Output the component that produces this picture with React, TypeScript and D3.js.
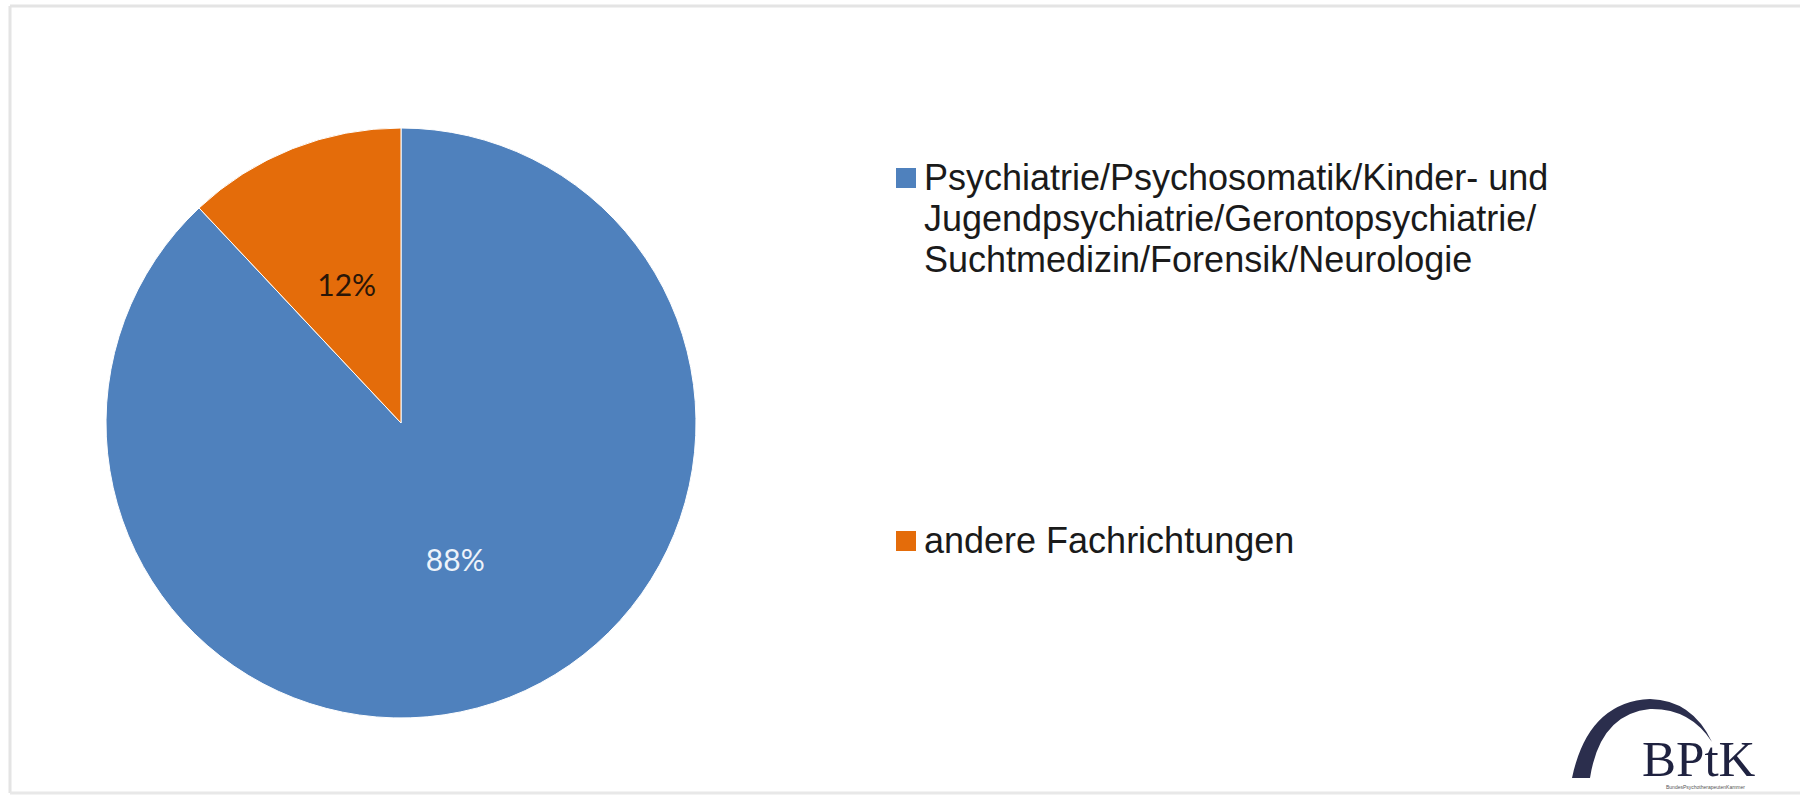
import React from "react";
import * as d3 from "d3";

const categories = [
  ["Psychiatrie/Psychosomatik/Kinder- und", "Jugendpsychiatrie/Gerontopsychiatrie/", "Suchtmedizin/Forensik/Neurologie"],
  ["andere Fachrichtungen"],
];
const values = [88, 12];
const valueLabels = ["88%", "12%"];
const colors = ["#4F81BD", "#E46C0A"];
const labelColors = ["#EEF3FA", "#2a1608"];

export default function App() {
  const W = 1800, H = 796;
  const cx = 401, cy = 423, r = 295;
  const pie = d3.pie<number>().sort(null).value((d) => d)(values);
  const arc = d3.arc<d3.PieArcDatum<number>>().innerRadius(0).outerRadius(r);
  const legendY = [190, 553];
  const lineH = 41;
  return (
    <svg width={W} height={H} style={{ position: "absolute", left: 0, top: 0, background: "#fff" }}>
      <rect x={0} y={0} width={W} height={H} fill="#fff" />
      {/* frame */}
      <line x1={10} y1={6} x2={W} y2={6} stroke="#e4e4e4" strokeWidth={3} />
      <line x1={10} y1={6} x2={10} y2={793} stroke="#e4e4e4" strokeWidth={3} />
      <line x1={10} y1={793} x2={W} y2={793} stroke="#e8e8e8" strokeWidth={3} />
      <g transform={`translate(${cx},${cy})`}>
        {pie.map((p, i) => (
          <path key={i} d={arc(p) || ""} fill={colors[i]} stroke="#fff" strokeWidth={1} />
        ))}
        {pie.map((p, i) => {
          const [x, y] = arc.centroid(p);
          return (
            <text key={"l" + i} x={x} y={y} dy="0.35em" textAnchor="middle" fontFamily="Lato, 'Open Sans', sans-serif" fontSize={30} fill={labelColors[i]}>
              {valueLabels[i]}
            </text>
          );
        })}
      </g>
      {categories.map((lines, i) => (
        <g key={"lg" + i}>
          <rect x={896} y={legendY[i] - 22} width={20} height={20} fill={colors[i]} />
          <text fontFamily="'Liberation Sans', Arial, sans-serif" fontSize={36} fill="#1a1a1a">
            {lines.map((t, j) => (
              <tspan key={j} x={924} y={legendY[i] + j * lineH}>{t}</tspan>
            ))}
          </text>
        </g>
      ))}
      {/* logo */}
      <path d="M1572,778 Q1588,702 1650,699 Q1692,700 1712,742 Q1690,708 1650,709 Q1600,714 1590,778 Z" fill="#2b2e4d" />
      <text x={1642} y={776} fontFamily="'Liberation Serif', 'Times New Roman', serif" fontSize={51} fill="#1f2240">BPtK</text>
      <text x={1666} y={789} fontFamily="'Liberation Sans', Arial, sans-serif" fontSize={5} fill="#555">BundesPsychotherapeutenKammer</text>
    </svg>
  );
}
